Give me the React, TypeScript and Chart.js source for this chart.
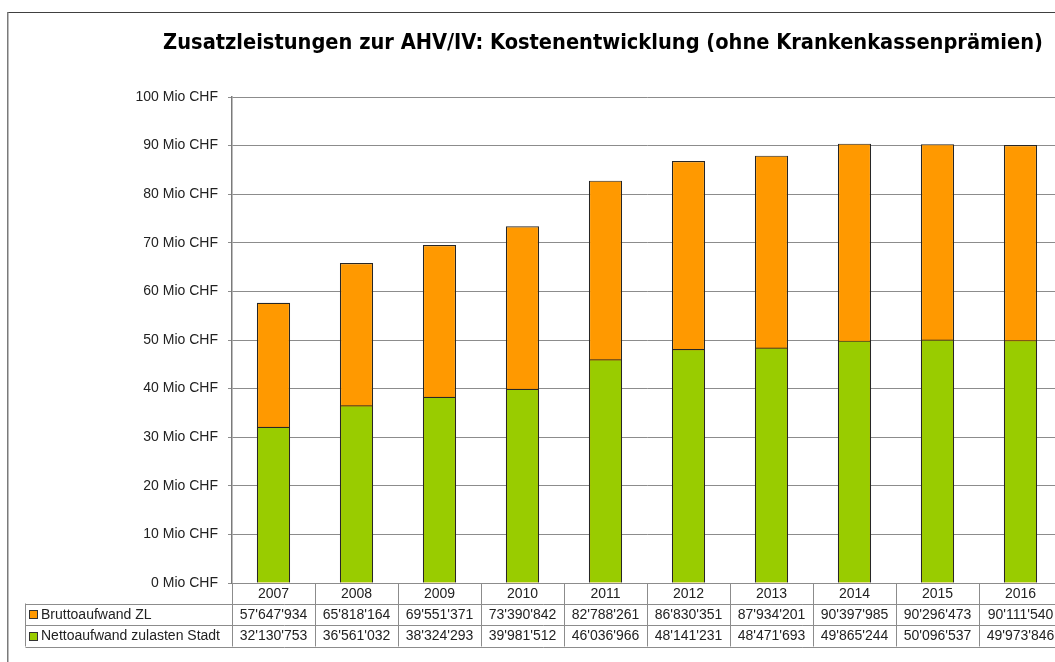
import React, { useEffect, useRef } from "react";
import { Chart, registerables } from "chart.js";

Chart.register(...registerables);

const TITLE = "Zusatzleistungen zur AHV/IV: Kostenentwicklung (ohne Krankenkassenprämien)";
const years = ["2007", "2008", "2009", "2010", "2011", "2012", "2013", "2014", "2015", "2016"];
const bruttoLabel = "Bruttoaufwand ZL";
const nettoLabel = "Nettoaufwand zulasten Stadt";
const brutto = [57647934, 65818164, 69551371, 73390842, 82788261, 86830351, 87934201, 90397985, 90296473, 90111540];
const netto = [32130753, 36561032, 38324293, 39981512, 46036966, 48141231, 48471693, 49865244, 50096537, 49973846];
const yMax = 100000000;
const yStep = 10000000;

const ORANGE = "#FF9900";
const GREEN = "#99CC00";
const TEXT = "#222222";
const LINE = "#8c8c8c";
const FONT = '"Liberation Sans", Arial, sans-serif';

const fmt = (n: number) => String(n).replace(/\B(?=(\d{3})+(?!\d))/g, "'");

const decorPlugin = {
  id: "decor",
  afterDraw(chart: any) {
    const ctx = chart.ctx as CanvasRenderingContext2D;
    const x = chart.scales.x;
    const area = chart.chartArea;
    const n = years.length;
    const cw = (x.right - x.left) / n;
    const r0 = area.bottom;
    const r1 = r0 + 20.5;
    const r2 = r1 + 21;
    const r3 = r2 + 22;
    const legendLeft = 25.5;

    ctx.save();
    // frame
    ctx.strokeStyle = "#404040";
    ctx.lineWidth = 1;
    ctx.beginPath();
    ctx.moveTo(7, 12.5);
    ctx.lineTo(chart.width, 12.5);
    ctx.stroke();
    ctx.strokeStyle = "#7a7a7a";
    ctx.lineWidth = 1.5;
    ctx.beginPath();
    ctx.moveTo(7.75, 12);
    ctx.lineTo(7.75, chart.height);
    ctx.stroke();

    // title
    const family = '"Liberation Sans Narrow", "DejaVu Sans Condensed", sans-serif';
    ctx.font = `bold 22px ${family}`;
    const w22 = ctx.measureText(TITLE).width;
    const size = Math.min(26, (22 * 880) / w22);
    ctx.font = `bold ${size}px ${family}`;
    ctx.fillStyle = "#000";
    ctx.textAlign = "center";
    ctx.textBaseline = "alphabetic";
    ctx.fillText(TITLE, 603, 49);

    // table lines
    ctx.strokeStyle = LINE;
    ctx.lineWidth = 1;
    ctx.beginPath();
    for (let i = 0; i <= n; i++) {
      const xi = Math.round(x.left + i * cw) + 0.5;
      ctx.moveTo(xi, r0);
      ctx.lineTo(xi, r3);
    }
    ctx.moveTo(legendLeft, r1);
    ctx.lineTo(legendLeft, r3);
    for (const ry of [r1, r2, r3]) {
      ctx.moveTo(legendLeft, Math.round(ry) + 0.5);
      ctx.lineTo(x.right, Math.round(ry) + 0.5);
    }
    ctx.stroke();

    // texts
    ctx.font = `14px ${FONT}`;
    ctx.fillStyle = TEXT;
    ctx.textAlign = "center";
    ctx.textBaseline = "middle";
    for (let i = 0; i < n; i++) {
      const cx = x.left + (i + 0.5) * cw;
      ctx.fillText(years[i], cx, (r0 + r1) / 2 + 1);
      ctx.fillText(fmt(brutto[i]), cx, (r1 + r2) / 2 + 1);
      ctx.fillText(fmt(netto[i]), cx, (r2 + r3) / 2 + 1);
    }
    // legend keys
    const rows: [string, string, number][] = [
      [bruttoLabel, ORANGE, (r1 + r2) / 2],
      [nettoLabel, GREEN, (r2 + r3) / 2],
    ];
    ctx.textAlign = "left";
    for (const [label, color, cy] of rows) {
      ctx.fillStyle = color;
      ctx.fillRect(29.5, Math.round(cy) - 3.5, 8, 8);
      ctx.strokeStyle = "#333";
      ctx.strokeRect(29.5, Math.round(cy) - 3.5, 8, 8);
      ctx.fillStyle = TEXT;
      ctx.fillText(label, 41, cy + 1);
    }
    ctx.restore();
  },
};

export default function App() {
  const ref = useRef<HTMLCanvasElement | null>(null);
  useEffect(() => {
    if (!ref.current) return;
    const chart = new Chart(ref.current, {
      type: "bar",
      data: {
        labels: years,
        datasets: [
          {
            label: nettoLabel,
            data: netto,
            backgroundColor: GREEN,
            borderColor: "#262626",
            borderWidth: 1.2,
            grouped: false,
            barPercentage: 0.4,
            categoryPercentage: 1,
          },
          {
            label: bruttoLabel,
            data: brutto,
            backgroundColor: ORANGE,
            borderColor: "#262626",
            borderWidth: 1.2,
            grouped: false,
            barPercentage: 0.4,
            categoryPercentage: 1,
          },
        ],
      },
      options: {
        responsive: false,
        animation: false,
        devicePixelRatio: 1,
        layout: { padding: { top: 97, right: 13, bottom: 79, left: 0 } },
        plugins: {
          legend: { display: false },
          tooltip: { enabled: false },
          title: { display: false },
        },
        scales: {
          x: {
            grid: { display: false, drawTicks: false },
            border: { display: false },
            ticks: { display: false },
            afterFit: (s: any) => {
              s.height = 0;
            },
          },
          y: {
            min: 0,
            max: yMax,
            grid: { color: LINE, lineWidth: 1, tickLength: 4, drawTicks: true },
            border: { color: "#7a7a7a", width: 1.5 },
            ticks: {
              stepSize: yStep,
              padding: 10,
              color: TEXT,
              font: { family: FONT, size: 14 },
              callback: (v: any) => `${Number(v) / 1000000} Mio CHF`,
            },
            afterFit: (s: any) => {
              s.width = 232;
            },
          },
        },
      },
      plugins: [decorPlugin],
    });
    return () => chart.destroy();
  }, []);
  return (
    <div
      style={{
        position: "absolute",
        left: 0,
        top: 0,
        width: 1055,
        height: 662,
        overflow: "hidden",
        background: "#fff",
      }}
    >
      <canvas ref={ref} width={1075} height={662} style={{ display: "block" }} />
    </div>
  );
}
